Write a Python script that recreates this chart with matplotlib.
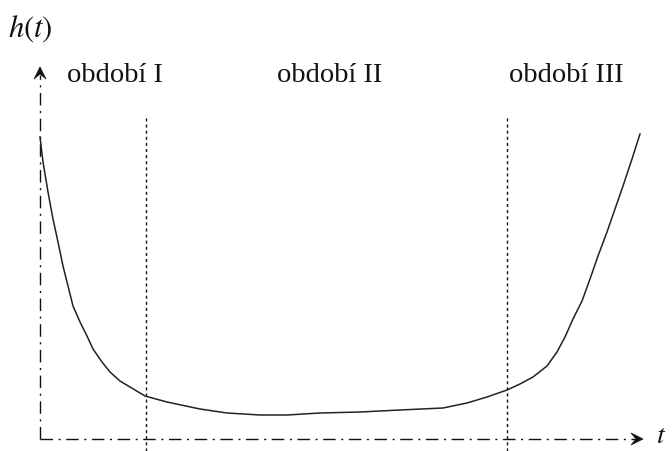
import matplotlib
matplotlib.use("Agg")
import matplotlib.pyplot as plt
from matplotlib.patches import Polygon

plt.rcParams["mathtext.fontset"] = "stix"

# Bathtub curve: failure rate h(t) over time t
t_vals = [0, 3, 8, 13, 18, 23, 28, 33, 40, 47, 53, 62, 70, 80, 90, 105,
          127, 160, 187, 220, 247, 280, 320, 360, 403, 427, 447, 467, 480,
          493, 507, 517, 525, 533, 542, 550, 558, 567, 575, 583, 592, 600]
h_vals = [302, 277, 247, 220, 197, 173, 153, 133, 117, 103, 90, 77, 67, 58,
          52, 43, 37, 30, 26, 24, 24, 26, 27, 29, 31, 36, 42, 49, 55, 62,
          73, 87, 102, 120, 138, 160, 183, 207, 230, 253, 280, 305]

# Period boundaries and labels
boundaries = [106, 467]
period_labels = ["období I", "období II", "období III"]
period_label_t = [27, 237, 469]

fig = plt.figure(figsize=(6.72, 4.52), dpi=100)
ax = fig.add_axes([0, 0, 1, 1])
ax.set_xlim(-40, 632)
ax.set_ylim(-12, 440)
ax.axis("off")

ink = "#111111"

# Axes drawn as dash-dot lines with barbed arrowheads
y_top = 372
x_end = 603
ax.plot([0, 0], [0, y_top - 8], color=ink, lw=1.0,
        linestyle=(0, (9, 4, 1.5, 4)), solid_capstyle="butt")
ax.plot([0, x_end - 8], [0, 0], color=ink, lw=1.0,
        linestyle=(0, (9, 4, 1.5, 4)), solid_capstyle="butt")


def arrowhead(tip, direction, length=12, half=6, notch=5):
    tx, ty = tip
    dx, dy = direction
    px, py = -dy, dx
    pts = [
        (tx, ty),
        (tx - dx * length + px * half, ty - dy * length + py * half),
        (tx - dx * (length - notch), ty - dy * (length - notch)),
        (tx - dx * length - px * half, ty - dy * length - py * half),
    ]
    ax.add_patch(Polygon(pts, closed=True, facecolor=ink, edgecolor=ink,
                         lw=0.5))


arrowhead((0, y_top), (0, 1))
arrowhead((x_end, 0), (1, 0))

# Period boundaries
for b in boundaries:
    ax.plot([b, b], [-12, 322], color=ink, lw=1.0,
            linestyle=(0, (2.2, 2.2)))

# The curve
ax.plot(t_vals, h_vals, color="#222222", lw=1.1, solid_joinstyle="round")

# Labels
serif = ["Liberation Serif", "DejaVu Serif"]
for x, lab in zip(period_label_t, period_labels):
    ax.text(x, 365, lab, fontsize=20.5, family=serif, ha="left",
            va="center", color=ink)

ax.text(-32, 411, r"$h(t)$", fontsize=22, ha="left", va="center", color=ink)
ax.text(616, -9, r"$t$", fontsize=20, ha="left", va="bottom", color=ink)

fig.savefig("out.png", dpi=100)
